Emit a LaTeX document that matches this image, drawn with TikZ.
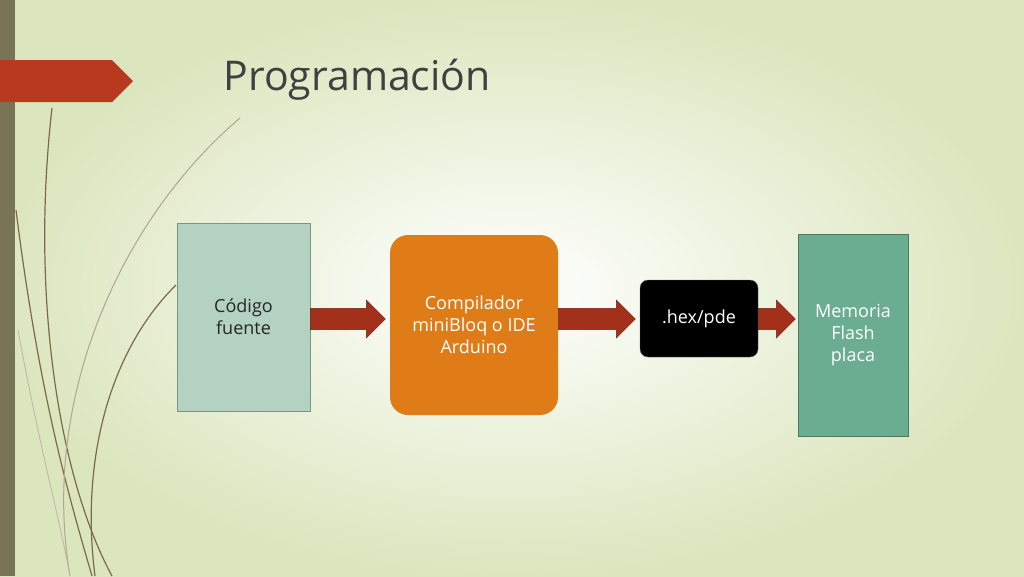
\documentclass[tikz,border=0pt]{standalone}
\usepackage{fontspec}
\setmainfont{Open Sans}
\usetikzlibrary{shapes.arrows,calc}
\definecolor{bgout}{HTML}{DCE6BE}
\definecolor{bar}{HTML}{7A7456}
\definecolor{banner}{HTML}{B8391F}
\definecolor{arr}{HTML}{A3301A}
\definecolor{boxa}{HTML}{B3D2C2}
\definecolor{boxb}{HTML}{E07C18}
\definecolor{boxd}{HTML}{6AAD91}
\definecolor{curve}{HTML}{7B6A4A}
\begin{document}
\begin{tikzpicture}[x=1pt,y=-1pt,
  lbl/.style={font=\fontsize{18}{22}\selectfont,align=center},
  flow/.style={single arrow,draw=arr!70!black,fill=arr,minimum height=#1,minimum width=38,single arrow head extend=8pt,single arrow head indent=0pt,inner sep=0pt,inner ysep=10pt}]
\useasboundingbox (0,0) rectangle (1024,576);
\shade[inner color=white,outer color=bgout] (0,0) rectangle (1024,576);
\fill[bar] (0,0) rectangle (15,576);
\fill[banner] (0,60) -- (112,60) -- (133,81) -- (112,102) -- (0,102) -- cycle;
\node[anchor=west,text=black!75,font=\fontsize{41}{46}\selectfont] (title) at (220,80) {Programación};
% decorative curves
\draw[curve,line width=1.2] (52,108) .. controls (30,300) and (60,480) .. (112,576);
\draw[curve,line width=1.2] (16,210) .. controls (40,400) and (70,500) .. (92,576);
\draw[curve!60,line width=1] (240,118) .. controls (120,220) and (40,400) .. (70,576);
\draw[curve,line width=1.2] (176,285) .. controls (110,350) and (80,460) .. (95,576);
\draw[curve!50,line width=0.8] (18,330) .. controls (40,450) and (60,520) .. (70,576);
% boxes
\node[draw=boxa!70!black,fill=boxa,minimum width=133,minimum height=188,lbl,text=black!85] (a) at (243.5,317) {Código\\fuente};
\node[fill=boxb,rounded corners=18,minimum width=168,minimum height=180,lbl,text=white] (b) at (474,325) {Compilador\\miniBloq o IDE\\Arduino};
\node[fill=black,draw=black!60,rounded corners=8,minimum width=118,minimum height=77,lbl,text=white] (c) at (699,318.5) {.hex/pde};
\node[draw=boxd!70!black,fill=boxd,minimum width=110,minimum height=202,lbl,text=white] (d) at (853,335) {Memoria\\Flash\\placa};
% arrows
\node[flow=75,anchor=west] (f1) at (a.east |- 0,319) {};
\node[flow=77,anchor=west] (f2) at (b.east |- 0,319) {};
\node[flow=37,anchor=west] (f3) at (c.east |- 0,319) {};
\end{tikzpicture}
\end{document}
